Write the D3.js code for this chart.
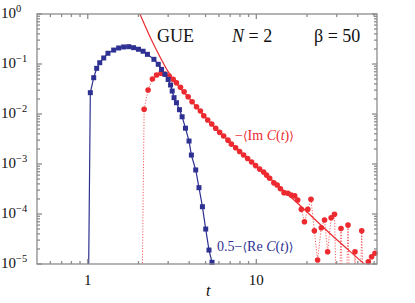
<!DOCTYPE html>
<html>
<head>
<meta charset="utf-8">
<script src="https://cdn.jsdelivr.net/npm/d3@7"></script>
<style>
body{margin:0;background:#fff;}
text{font-family:"Liberation Serif","Times New Roman",serif;}
.br{font-family:"DejaVu Serif",serif;font-size:12px;}
</style>
</head>
<body>
<svg id="chart" width="415" height="303"></svg>
<script>
// 0.5 - <Re C(t)>  (blue squares)
var blueT = [1.0, 1.036, 1.085, 1.13, 1.178, 1.244, 1.318, 1.425, 1.525, 1.633, 1.75, 1.87, 2.0, 2.13, 2.26,
             2.47, 2.62, 2.74, 2.87, 3.0, 3.1, 3.17, 3.25, 3.36, 3.5, 3.63, 3.8, 3.99, 4.12, 4.37, 4.57, 4.79,
             5.01, 5.24, 5.46];
var blueV = [1e-7, 0.0267, 0.0532, 0.082, 0.106, 0.132, 0.164, 0.19, 0.209, 0.219, 0.222, 0.212, 0.197, 0.18, 0.156,
             0.124, 0.0986, 0.078, 0.062, 0.049, 0.038, 0.0288, 0.0212, 0.0168, 0.0122, 0.0088, 0.0052, 0.00288, 0.00151,
             7.6e-4, 3.36e-4, 1.4e-4, 5.0e-5, 1.9e-5, 1.08e-5];

// -<Im C(t)>  (red circles); 1e-7 = point below the axis
var redT = [2.08, 2.16, 2.28, 2.42, 2.56, 2.72, 2.87, 3.04, 3.21, 3.36, 3.55, 3.73, 3.94, 4.16, 4.42, 4.66, 4.88,
            5.15, 5.44, 5.74, 6.06, 6.4, 6.79, 7.11, 7.54, 7.96, 8.41, 8.88, 9.38, 9.9, 10.46, 11.05, 11.5, 12.0,
            12.7, 13.3, 13.9, 14.6, 15.4, 16.1, 16.9, 17.6, 18.5, 19.3, 20.2, 21.1, 22.1, 23.1, 24.3, 25.4, 26.5,
            27.8, 29.1, 30.4, 31.8, 33.3, 35.0, 36.6, 38.5, 40.3, 42.2, 44.2, 46.2, 48.3, 50.6];
var redV = [1e-7, 0.0124, 0.0302, 0.050, 0.0603, 0.0652, 0.063, 0.0575, 0.0494, 0.0423, 0.0342, 0.0279, 0.0222,
            0.0176, 0.014, 0.0115, 0.00925, 0.00759, 0.0063, 0.00518, 0.0043, 0.00363, 0.0030, 0.0025, 0.00212,
            1.78e-3, 1.51e-3, 1.29e-3, 1.10e-3, 9.3e-4, 7.9e-4, 6.9e-4, 6.0e-4, 5.2e-4, 4.2e-4, 3.8e-4, 3.2e-4,
            2.67e-4, 2.6e-4, 2.4e-4, 2.3e-4, 1.9e-4, 1.24e-4, 7.0e-5, 1.24e-4, 1.97e-4, 4.6e-5, 1.2e-5, 5.3e-5,
            7.6e-5, 1.76e-5, 8.4e-5, 9.9e-5, 1e-7, 5.1e-5, 1e-7, 6.0e-5, 1e-7, 1.76e-5, 1e-7, 4.6e-5, 1e-7,
            1.11e-5, 1.4e-5, 1.64e-5];

// asymptotic curve (solid red)
var fitT = [2.04, 2.34, 2.68, 3.0, 3.33, 4.03, 5.29, 7.96, 11.99, 18.04, 27.14, 43.7, 51.5];
var fitV = [1, 0.352, 0.14, 0.0702, 0.0417, 0.020, 0.00692, 0.00182, 5.25e-4, 1.51e-4, 4.17e-5, 1e-5, 6.0e-6];

// ticks
var xMajor = [1, 10];
var xMajorLabels = ["1", "10"];
var xMinor = [0.6, 0.7, 0.8, 0.9, 2, 3, 4, 5, 6, 7, 8, 9, 20, 30, 40, 50];
var yExp = [0, -1, -2, -3, -4, -5];

var blue = "#2e3192", red = "#ec2a2f", gray = "#8c8c8c";

var svg = d3.select("#chart");
var x = d3.scaleLog().domain([0.5, 52]).range([37, 377]);
var y = d3.scaleLog().domain([1e-5, 1]).range([264, 14]);

svg.append("defs").append("clipPath").attr("id", "clip")
  .append("rect").attr("x", 37).attr("y", 14).attr("width", 340).attr("height", 250);

var blueD = blueT.map(function(t, i){ return [t, blueV[i]]; });
var redD = redT.map(function(t, i){ return [t, redV[i]]; });
var fitD = fitT.map(function(t, i){ return [t, fitV[i]]; });

var line = d3.line().x(function(d){ return x(d[0]); }).y(function(d){ return y(d[1]); });

var plot = svg.append("g").attr("clip-path", "url(#clip)");

// red dotted connector
plot.append("path").datum(redD).attr("d", line).attr("fill", "none")
  .attr("stroke", red).attr("stroke-width", 1).attr("stroke-dasharray", "1.2,1.6").attr("opacity", 0.75);

// solid red curve
plot.append("path").datum(fitD).attr("d", line.curve(d3.curveCatmullRom)).attr("fill", "none")
  .attr("stroke", red).attr("stroke-width", 1.2);
line.curve(d3.curveLinear);

// blue line
plot.append("path").datum(blueD).attr("d", line).attr("fill", "none")
  .attr("stroke", blue).attr("stroke-width", 1.2);

// markers
svg.append("g").selectAll("circle").data(redD.filter(function(d){ return d[1] >= 1e-5; }))
  .enter().append("circle")
  .attr("cx", function(d){ return x(d[0]); }).attr("cy", function(d){ return y(d[1]); })
  .attr("r", 2.8).attr("fill", red);

svg.append("g").selectAll("rect").data(blueD.filter(function(d){ return d[1] >= 1e-5; }))
  .enter().append("rect")
  .attr("x", function(d){ return x(d[0]) - 2.5; }).attr("y", function(d){ return y(d[1]) - 2.5; })
  .attr("width", 5).attr("height", 5).attr("fill", blue);

// frame and ticks
var ax = svg.append("g").attr("stroke", gray).attr("stroke-width", 1.3);
ax.append("rect").attr("x", 37).attr("y", 14).attr("width", 340).attr("height", 250).attr("fill", "none");

function xTick(t, len){
  ax.append("line").attr("x1", x(t)).attr("x2", x(t)).attr("y1", 264).attr("y2", 264 - len);
  ax.append("line").attr("x1", x(t)).attr("x2", x(t)).attr("y1", 14).attr("y2", 14 + len);
}
function yTick(v, len){
  ax.append("line").attr("x1", 37).attr("x2", 37 + len).attr("y1", y(v)).attr("y2", y(v));
  ax.append("line").attr("x1", 377).attr("x2", 377 - len).attr("y1", y(v)).attr("y2", y(v));
}
xMajor.forEach(function(t){ xTick(t, 5); });
xMinor.forEach(function(t){ xTick(t, 3); });
yExp.forEach(function(e){
  yTick(Math.pow(10, e), 5);
  if (e > -5) for (var k = 2; k < 10; k++) yTick(k * Math.pow(10, e - 1), 3);
});

// tick labels
xMajor.forEach(function(t, i){
  svg.append("text").attr("x", x(t)).attr("y", 285).attr("text-anchor", "middle")
    .attr("font-size", 15).attr("fill", "#111").text(xMajorLabels[i]);
});
yExp.forEach(function(e){
  var tx = svg.append("text").attr("x", 1).attr("y", y(Math.pow(10, e)) + 4)
    .attr("font-size", 15).attr("fill", "#111");
  tx.append("tspan").text("10");
  tx.append("tspan").attr("dy", -6).attr("font-size", 10.5).text(e === 0 ? "0" : "\u2212" + (-e));
});

svg.append("text").attr("x", 206).attr("y", 296).attr("font-size", 16).attr("font-style", "italic")
  .attr("fill", "#111").text("t");

// annotations
svg.append("text").attr("x", 157).attr("y", 41.5).attr("font-size", 18).attr("fill", "#111").text("GUE");
var nt = svg.append("text").attr("x", 232).attr("y", 41.5).attr("font-size", 18).attr("fill", "#111");
nt.append("tspan").attr("font-style", "italic").text("N");
nt.append("tspan").text(" = 2");
svg.append("text").attr("x", 314).attr("y", 41.5).attr("font-size", 18).attr("fill", "#111").text("\u03b2 = 50");

function label(sel, pre){
  sel.append("tspan").text(pre);
  sel.append("tspan").attr("class", "br").text("\u27e8");
  sel.append("tspan").text(sel === rl ? "Im " : "Re ");
  sel.append("tspan").attr("font-style", "italic").text("C");
  sel.append("tspan").text("(");
  sel.append("tspan").attr("font-style", "italic").text("t");
  sel.append("tspan").text(")");
  sel.append("tspan").attr("class", "br").text("\u27e9");
}
var rl = svg.append("text").attr("x", 235).attr("y", 140).attr("font-size", 14).attr("fill", red);
label(rl, "\u2212");
var bl = svg.append("text").attr("x", 217).attr("y", 251).attr("font-size", 14).attr("fill", blue);
label(bl, "0.5\u2212");
</script>
</body>
</html>
